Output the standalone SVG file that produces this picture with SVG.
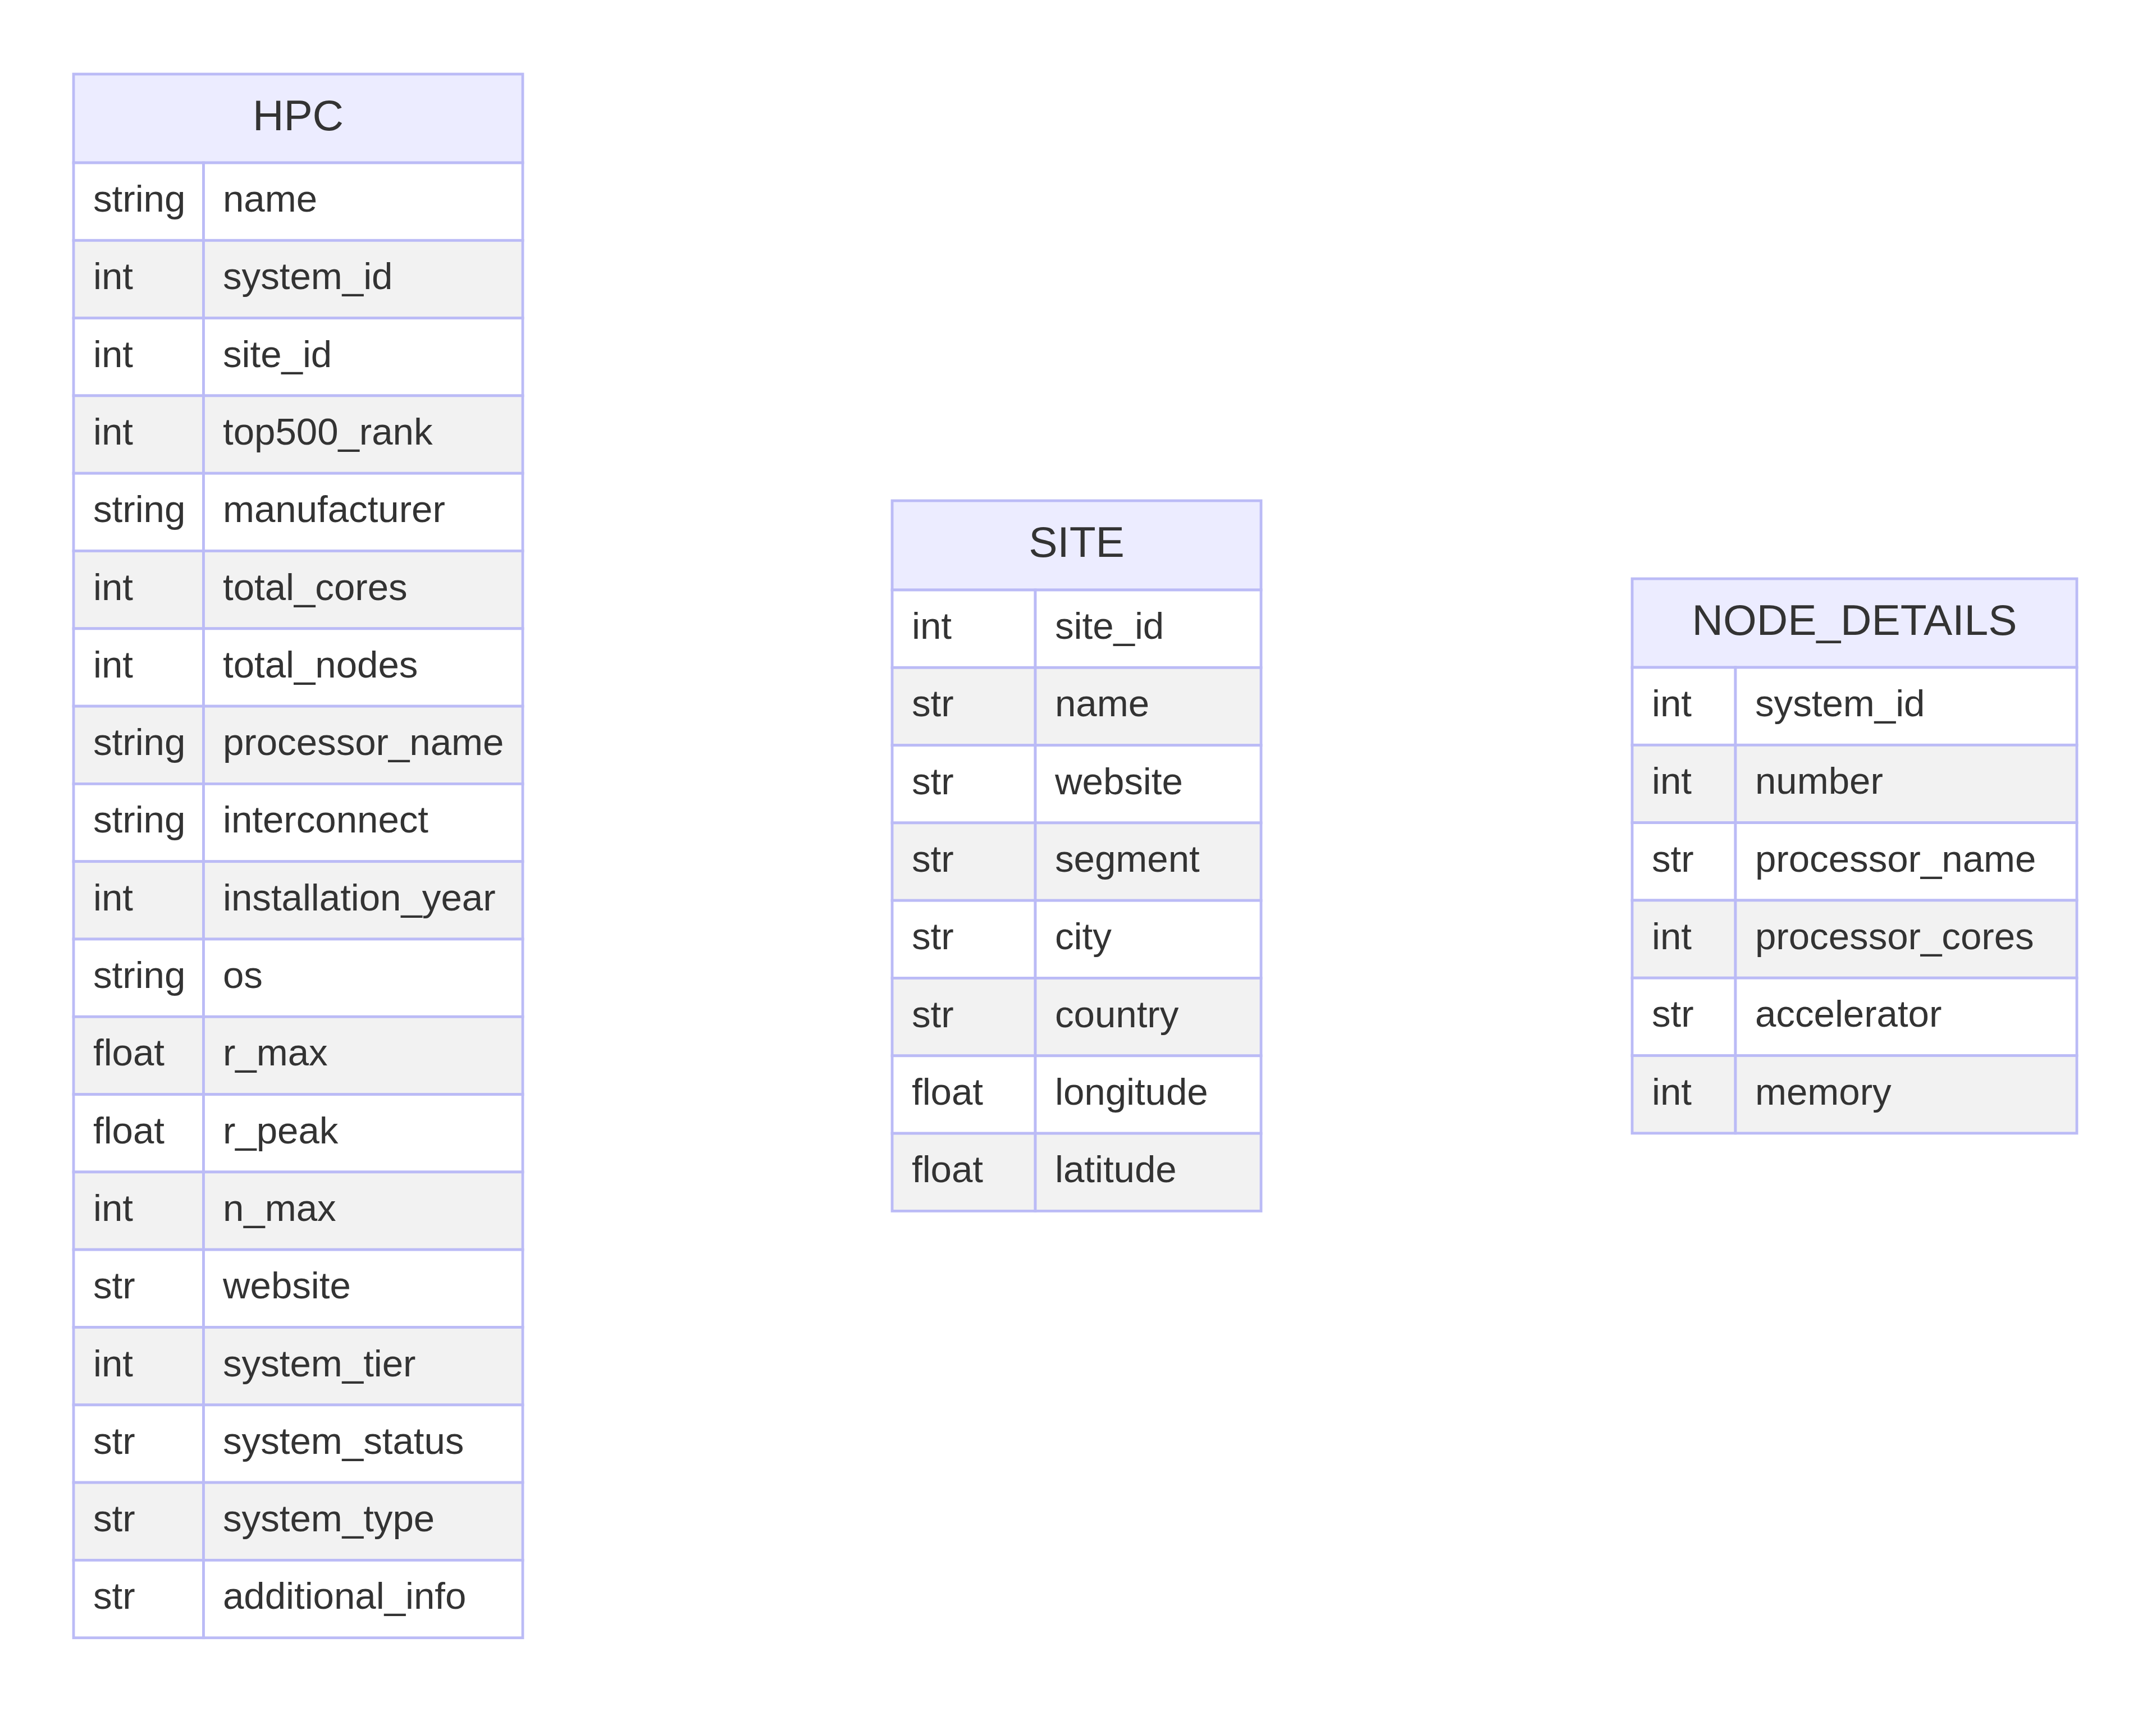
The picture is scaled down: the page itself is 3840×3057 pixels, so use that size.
<svg xmlns="http://www.w3.org/2000/svg" width="3840" height="3057" viewBox="0 0 3840 3057">
<style>
.bg{fill:#ffffff}
.hdr{fill:#ECECFF;stroke:#BBBBF6;stroke-width:4.8}
.odd{fill:#ffffff;stroke:#BBBBF6;stroke-width:4.8}
.even{fill:#F2F2F2;stroke:#BBBBF6;stroke-width:4.8}
.t{font-family:"Liberation Sans",Arial,Helvetica,sans-serif;font-size:67.2px;fill:#333333}
.h{font-family:"Liberation Sans",Arial,Helvetica,sans-serif;font-size:76.8px;fill:#333333;text-anchor:middle}
</style>
<rect class="bg" x="0" y="0" width="3840" height="3057"/>
<g id="connectors"></g>

<g id="HPC">
<rect class="hdr" x="131" y="132" width="800" height="158"/>
<text class="h" x="531" y="232">HPC</text>
<g transform="translate(0,290)"><rect class="odd" x="131" y="0" width="231.5" height="138.3"/><rect class="odd" x="362.5" y="0" width="568.5" height="138.3"/><text class="t" x="166" y="87">string</text><text class="t" x="397" y="87">name</text></g>
<g transform="translate(0,428.3)"><rect class="even" x="131" y="0" width="231.5" height="138.3"/><rect class="even" x="362.5" y="0" width="568.5" height="138.3"/><text class="t" x="166" y="87">int</text><text class="t" x="397" y="87">system_id</text></g>
<g transform="translate(0,566.6)"><rect class="odd" x="131" y="0" width="231.5" height="138.3"/><rect class="odd" x="362.5" y="0" width="568.5" height="138.3"/><text class="t" x="166" y="87">int</text><text class="t" x="397" y="87">site_id</text></g>
<g transform="translate(0,704.9)"><rect class="even" x="131" y="0" width="231.5" height="138.3"/><rect class="even" x="362.5" y="0" width="568.5" height="138.3"/><text class="t" x="166" y="87">int</text><text class="t" x="397" y="87">top500_rank</text></g>
<g transform="translate(0,843.2)"><rect class="odd" x="131" y="0" width="231.5" height="138.3"/><rect class="odd" x="362.5" y="0" width="568.5" height="138.3"/><text class="t" x="166" y="87">string</text><text class="t" x="397" y="87">manufacturer</text></g>
<g transform="translate(0,981.5)"><rect class="even" x="131" y="0" width="231.5" height="138.3"/><rect class="even" x="362.5" y="0" width="568.5" height="138.3"/><text class="t" x="166" y="87">int</text><text class="t" x="397" y="87">total_cores</text></g>
<g transform="translate(0,1119.8)"><rect class="odd" x="131" y="0" width="231.5" height="138.3"/><rect class="odd" x="362.5" y="0" width="568.5" height="138.3"/><text class="t" x="166" y="87">int</text><text class="t" x="397" y="87">total_nodes</text></g>
<g transform="translate(0,1258.1)"><rect class="even" x="131" y="0" width="231.5" height="138.3"/><rect class="even" x="362.5" y="0" width="568.5" height="138.3"/><text class="t" x="166" y="87">string</text><text class="t" x="397" y="87">processor_name</text></g>
<g transform="translate(0,1396.4)"><rect class="odd" x="131" y="0" width="231.5" height="138.3"/><rect class="odd" x="362.5" y="0" width="568.5" height="138.3"/><text class="t" x="166" y="87">string</text><text class="t" x="397" y="87">interconnect</text></g>
<g transform="translate(0,1534.7)"><rect class="even" x="131" y="0" width="231.5" height="138.3"/><rect class="even" x="362.5" y="0" width="568.5" height="138.3"/><text class="t" x="166" y="87">int</text><text class="t" x="397" y="87">installation_year</text></g>
<g transform="translate(0,1673)"><rect class="odd" x="131" y="0" width="231.5" height="138.3"/><rect class="odd" x="362.5" y="0" width="568.5" height="138.3"/><text class="t" x="166" y="87">string</text><text class="t" x="397" y="87">os</text></g>
<g transform="translate(0,1811.3)"><rect class="even" x="131" y="0" width="231.5" height="138.3"/><rect class="even" x="362.5" y="0" width="568.5" height="138.3"/><text class="t" x="166" y="87">float</text><text class="t" x="397" y="87">r_max</text></g>
<g transform="translate(0,1949.6)"><rect class="odd" x="131" y="0" width="231.5" height="138.3"/><rect class="odd" x="362.5" y="0" width="568.5" height="138.3"/><text class="t" x="166" y="87">float</text><text class="t" x="397" y="87">r_peak</text></g>
<g transform="translate(0,2087.9)"><rect class="even" x="131" y="0" width="231.5" height="138.3"/><rect class="even" x="362.5" y="0" width="568.5" height="138.3"/><text class="t" x="166" y="87">int</text><text class="t" x="397" y="87">n_max</text></g>
<g transform="translate(0,2226.2)"><rect class="odd" x="131" y="0" width="231.5" height="138.3"/><rect class="odd" x="362.5" y="0" width="568.5" height="138.3"/><text class="t" x="166" y="87">str</text><text class="t" x="397" y="87">website</text></g>
<g transform="translate(0,2364.5)"><rect class="even" x="131" y="0" width="231.5" height="138.3"/><rect class="even" x="362.5" y="0" width="568.5" height="138.3"/><text class="t" x="166" y="87">int</text><text class="t" x="397" y="87">system_tier</text></g>
<g transform="translate(0,2502.8)"><rect class="odd" x="131" y="0" width="231.5" height="138.3"/><rect class="odd" x="362.5" y="0" width="568.5" height="138.3"/><text class="t" x="166" y="87">str</text><text class="t" x="397" y="87">system_status</text></g>
<g transform="translate(0,2641.1)"><rect class="even" x="131" y="0" width="231.5" height="138.3"/><rect class="even" x="362.5" y="0" width="568.5" height="138.3"/><text class="t" x="166" y="87">str</text><text class="t" x="397" y="87">system_type</text></g>
<g transform="translate(0,2779.4)"><rect class="odd" x="131" y="0" width="231.5" height="138.3"/><rect class="odd" x="362.5" y="0" width="568.5" height="138.3"/><text class="t" x="166" y="87">str</text><text class="t" x="397" y="87">additional_info</text></g>
</g>

<g id="SITE">
<rect class="hdr" x="1589" y="892" width="657" height="159"/>
<text class="h" x="1917.5" y="992">SITE</text>
<g transform="translate(0,1051)"><rect class="odd" x="1589" y="0" width="255" height="138.3"/><rect class="odd" x="1844" y="0" width="402" height="138.3"/><text class="t" x="1624" y="87">int</text><text class="t" x="1879" y="87">site_id</text></g>
<g transform="translate(0,1189.3)"><rect class="even" x="1589" y="0" width="255" height="138.3"/><rect class="even" x="1844" y="0" width="402" height="138.3"/><text class="t" x="1624" y="87">str</text><text class="t" x="1879" y="87">name</text></g>
<g transform="translate(0,1327.6)"><rect class="odd" x="1589" y="0" width="255" height="138.3"/><rect class="odd" x="1844" y="0" width="402" height="138.3"/><text class="t" x="1624" y="87">str</text><text class="t" x="1879" y="87">website</text></g>
<g transform="translate(0,1465.9)"><rect class="even" x="1589" y="0" width="255" height="138.3"/><rect class="even" x="1844" y="0" width="402" height="138.3"/><text class="t" x="1624" y="87">str</text><text class="t" x="1879" y="87">segment</text></g>
<g transform="translate(0,1604.2)"><rect class="odd" x="1589" y="0" width="255" height="138.3"/><rect class="odd" x="1844" y="0" width="402" height="138.3"/><text class="t" x="1624" y="87">str</text><text class="t" x="1879" y="87">city</text></g>
<g transform="translate(0,1742.5)"><rect class="even" x="1589" y="0" width="255" height="138.3"/><rect class="even" x="1844" y="0" width="402" height="138.3"/><text class="t" x="1624" y="87">str</text><text class="t" x="1879" y="87">country</text></g>
<g transform="translate(0,1880.8)"><rect class="odd" x="1589" y="0" width="255" height="138.3"/><rect class="odd" x="1844" y="0" width="402" height="138.3"/><text class="t" x="1624" y="87">float</text><text class="t" x="1879" y="87">longitude</text></g>
<g transform="translate(0,2019.1)"><rect class="even" x="1589" y="0" width="255" height="138.3"/><rect class="even" x="1844" y="0" width="402" height="138.3"/><text class="t" x="1624" y="87">float</text><text class="t" x="1879" y="87">latitude</text></g>
</g>

<g id="NODE_DETAILS">
<rect class="hdr" x="2907" y="1031" width="792" height="158"/>
<text class="h" x="3303" y="1131">NODE_DETAILS</text>
<g transform="translate(0,1189)"><rect class="odd" x="2907" y="0" width="184" height="138.3"/><rect class="odd" x="3091" y="0" width="608" height="138.3"/><text class="t" x="2942" y="87">int</text><text class="t" x="3126" y="87">system_id</text></g>
<g transform="translate(0,1327.3)"><rect class="even" x="2907" y="0" width="184" height="138.3"/><rect class="even" x="3091" y="0" width="608" height="138.3"/><text class="t" x="2942" y="87">int</text><text class="t" x="3126" y="87">number</text></g>
<g transform="translate(0,1465.6)"><rect class="odd" x="2907" y="0" width="184" height="138.3"/><rect class="odd" x="3091" y="0" width="608" height="138.3"/><text class="t" x="2942" y="87">str</text><text class="t" x="3126" y="87">processor_name</text></g>
<g transform="translate(0,1603.9)"><rect class="even" x="2907" y="0" width="184" height="138.3"/><rect class="even" x="3091" y="0" width="608" height="138.3"/><text class="t" x="2942" y="87">int</text><text class="t" x="3126" y="87">processor_cores</text></g>
<g transform="translate(0,1742.2)"><rect class="odd" x="2907" y="0" width="184" height="138.3"/><rect class="odd" x="3091" y="0" width="608" height="138.3"/><text class="t" x="2942" y="87">str</text><text class="t" x="3126" y="87">accelerator</text></g>
<g transform="translate(0,1880.5)"><rect class="even" x="2907" y="0" width="184" height="138.3"/><rect class="even" x="3091" y="0" width="608" height="138.3"/><text class="t" x="2942" y="87">int</text><text class="t" x="3126" y="87">memory</text></g>
</g>
</svg>
